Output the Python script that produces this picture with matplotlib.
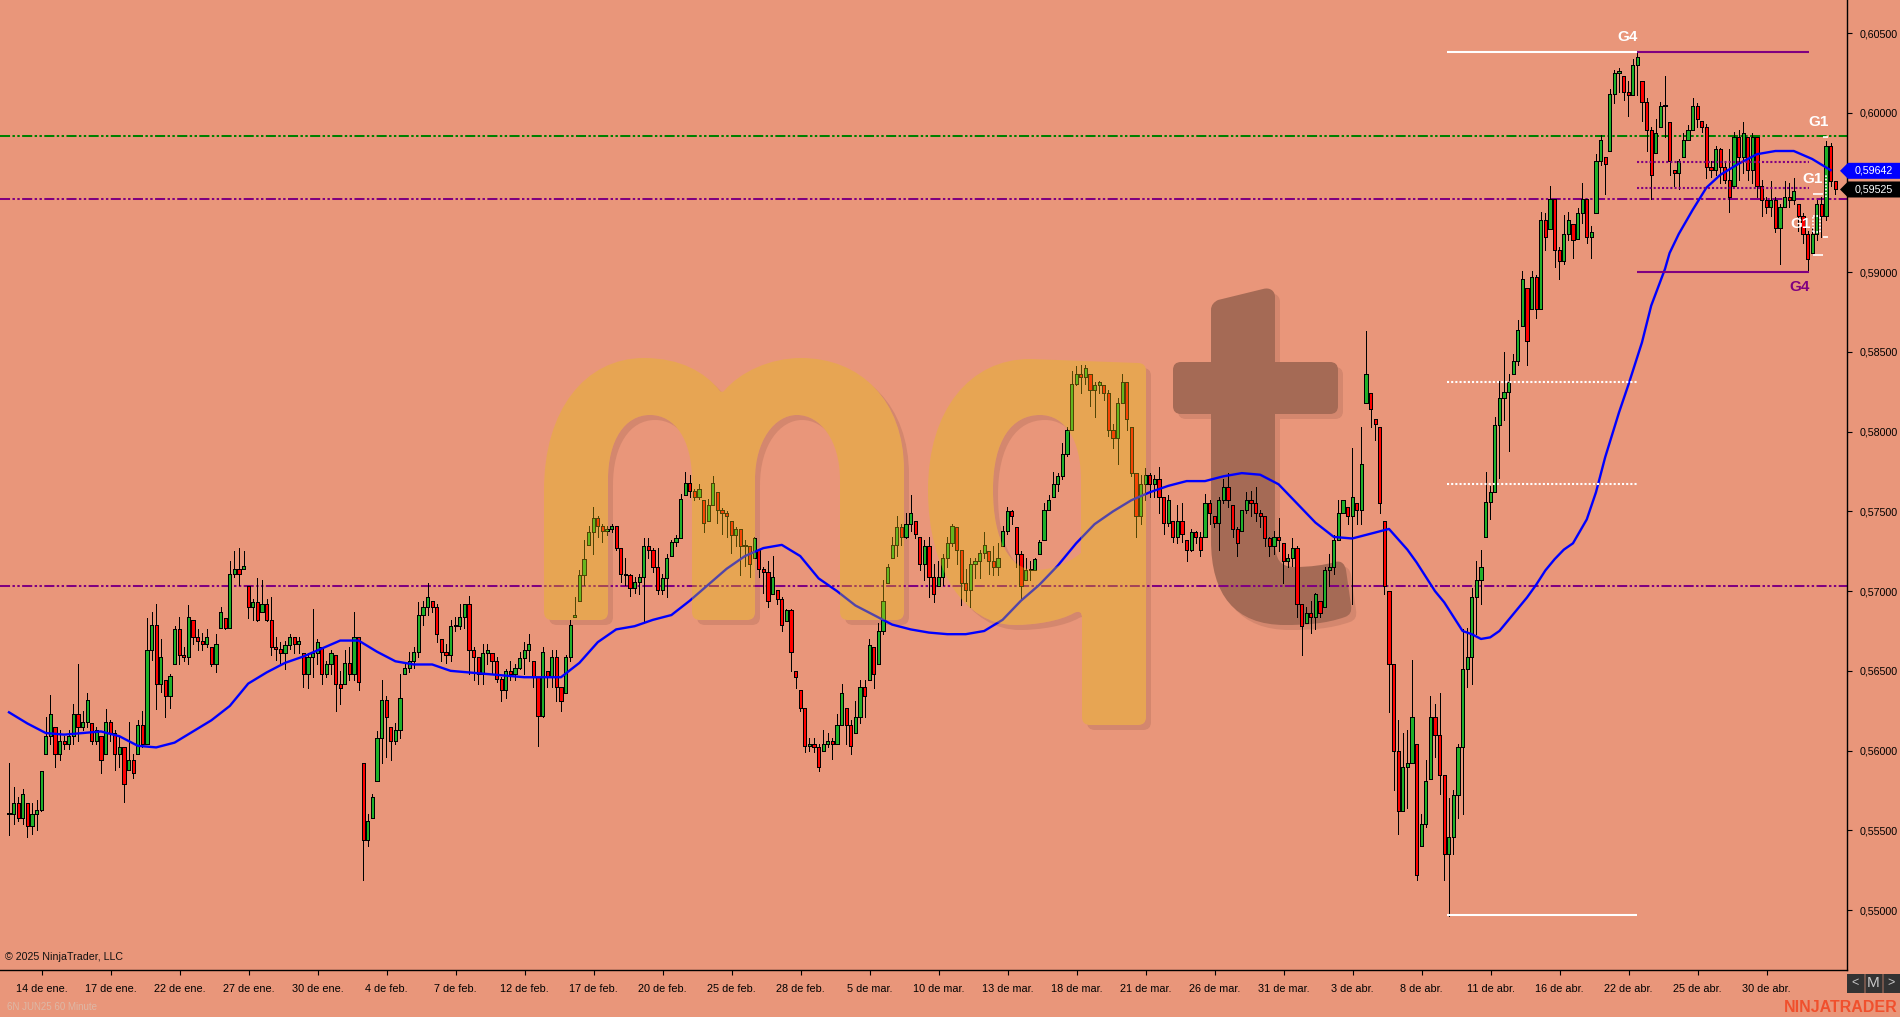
import numpy as np
import matplotlib
matplotlib.use("Agg")
from matplotlib import pyplot as plt
from matplotlib.path import Path
from matplotlib.patches import PathPatch, Polygon, Rectangle
from matplotlib.transforms import Affine2D

# prices are kept as price x 10000, one candle per 4.6 px of the original
closes = [
5560,5567,5558,5573,5553,5560,5563,5587,5609,5623,5598,5606,5604,5609,5623,5615,5618,5632,5606,5613,
5594,5618,5611,5598,5602,5579,5594,5586,5616,5604,5663,5679,5642,5659,5634,5647,5676,5660,5659,5684,
5671,5669,5667,5671,5654,5667,5687,5677,5711,5714,5711,5716,5690,5693,5682,5692,5682,5665,5664,5661,
5666,5671,5667,5669,5648,5659,5661,5668,5648,5654,5661,5642,5639,5655,5648,5671,5643,5544,5556,5571,
5608,5632,5621,5606,5613,5633,5652,5656,5662,5685,5690,5696,5690,5673,5662,5660,5678,5678,5684,5692,
5663,5659,5648,5661,5663,5656,5645,5638,5650,5648,5652,5658,5663,5667,5646,5622,5662,5646,5659,5640,
5631,5659,5679,5685,5710,5720,5737,5746,5741,5738,5739,5741,5727,5711,5710,5702,5706,5709,5728,5726,
5715,5701,5708,5721,5731,5733,5758,5768,5763,5759,5764,5743,5754,5768,5751,5749,5747,5735,5739,5728,
5729,5717,5733,5714,5712,5694,5709,5695,5679,5688,5662,5646,5627,5603,5604,5602,5590,5604,5606,5604,
5616,5636,5616,5603,5621,5640,5634,5666,5648,5675,5694,5715,5729,5740,5734,5742,5749,5736,5717,5728,
5709,5698,5709,5721,5730,5741,5726,5705,5701,5717,5719,5724,5729,5719,5715,5721,5738,5750,5747,5723,
5703,5713,5713,5720,5731,5751,5757,5767,5772,5786,5801,5830,5836,5834,5840,5826,5829,5831,5824,5801,
5796,5818,5831,5808,5774,5747,5767,5773,5767,5770,5759,5743,5757,5734,5744,5736,5726,5737,5734,5726,
5755,5749,5743,5757,5765,5757,5739,5730,5751,5757,5755,5749,5747,5733,5728,5734,5732,5719,5721,5727,
5692,5678,5686,5684,5698,5686,5713,5715,5732,5749,5757,5747,5759,5751,5780,5836,5814,5805,5755,5703,
5654,5600,5562,5590,5592,5621,5522,5554,5581,5621,5610,5585,5535,5546,5572,5602,5651,5659,5696,5707,
5715,5756,5762,5804,5821,5825,5831,5844,5864,5896,5857,5897,5877,5933,5922,5946,5914,5907,5924,5933,
5920,5937,5946,5922,5925,5970,5983,5968,6012,6025,6026,6013,6011,6030,6035,6007,5989,5961,5987,6004,
6005,5970,5962,5970,5983,5989,6004,5996,5991,5966,5964,5977,5966,5958,5947,5985,5972,5987,5964,5985,
5954,5945,5941,5945,5928,5941,5947,5945,5951,5935,5924,5908,5924,5943,5935,5979,5957,5952]

highs = [
5592,5577,5571,5576,5567,5567,5569,5587,5621,5635,5615,5613,5609,5613,5629,5654,5625,5636,5617,5615,
5609,5626,5619,5613,5609,5602,5618,5598,5619,5625,5683,5687,5692,5670,5644,5648,5678,5684,5665,5691,
5682,5676,5674,5676,5665,5673,5690,5683,5719,5725,5727,5725,5703,5695,5708,5707,5695,5696,5671,5668,
5669,5673,5671,5671,5661,5661,5689,5670,5665,5656,5663,5660,5650,5663,5665,5687,5671,5592,5560,5573,
5612,5644,5634,5615,5617,5648,5654,5662,5665,5693,5694,5705,5694,5692,5670,5667,5682,5684,5692,5692,
5697,5665,5659,5667,5667,5661,5659,5646,5651,5656,5654,5662,5668,5673,5656,5646,5665,5650,5663,5663,
5640,5660,5682,5696,5713,5732,5741,5753,5747,5742,5741,5742,5741,5727,5721,5711,5709,5711,5733,5733,
5727,5727,5711,5723,5732,5735,5761,5775,5773,5764,5767,5757,5758,5772,5762,5752,5750,5744,5740,5739,
5732,5728,5734,5726,5715,5719,5722,5701,5696,5689,5689,5650,5638,5627,5608,5608,5604,5613,5611,5608,
5623,5642,5627,5619,5631,5644,5644,5670,5665,5680,5707,5717,5734,5747,5742,5749,5760,5744,5734,5732,
5734,5717,5719,5723,5734,5742,5740,5726,5714,5721,5721,5726,5737,5725,5728,5730,5741,5753,5751,5740,
5725,5721,5719,5721,5732,5755,5760,5775,5774,5793,5803,5838,5841,5842,5842,5836,5831,5832,5829,5826,
5805,5821,5836,5831,5803,5774,5773,5777,5774,5773,5778,5759,5760,5744,5754,5755,5732,5739,5738,5737,
5761,5757,5747,5759,5770,5774,5754,5740,5751,5762,5763,5765,5751,5747,5734,5738,5746,5730,5723,5733,
5728,5692,5690,5694,5699,5694,5715,5723,5735,5757,5757,5753,5790,5755,5803,5863,5824,5808,5803,5744,
5700,5654,5619,5611,5613,5657,5604,5560,5594,5634,5629,5636,5585,5570,5575,5604,5676,5677,5702,5719,
5726,5775,5766,5809,5832,5850,5836,5849,5870,5901,5890,5901,5898,5938,5937,5954,5946,5916,5936,5938,
5930,5940,5956,5946,5929,5974,5986,5972,6015,6027,6028,6023,6020,6034,6038,6020,6009,5991,5996,6007,
6023,5994,5964,5971,5987,5992,6009,6006,5995,5993,5970,5979,5978,5970,5977,5988,5989,5994,5985,5987,
5985,5958,5947,5957,5947,5943,5957,5956,5959,5943,5937,5926,5928,5945,5947,5982,5981,5957]

lows = [
5547,5554,5556,5554,5546,5548,5550,5562,5598,5604,5590,5594,5601,5601,5604,5606,5613,5615,5604,5604,
5586,5598,5606,5588,5590,5568,5588,5583,5598,5602,5604,5657,5626,5637,5621,5627,5654,5654,5656,5654,
5667,5663,5663,5665,5653,5649,5677,5676,5677,5709,5704,5714,5683,5682,5681,5687,5681,5660,5657,5654,
5651,5664,5661,5661,5640,5639,5646,5654,5642,5646,5648,5625,5629,5642,5644,5644,5638,5519,5540,5558,
5581,5592,5596,5594,5604,5608,5648,5649,5652,5659,5679,5685,5687,5668,5656,5655,5656,5675,5676,5677,
5648,5644,5642,5642,5654,5648,5643,5631,5633,5644,5644,5651,5648,5656,5640,5603,5621,5640,5640,5631,
5625,5636,5656,5684,5694,5704,5729,5723,5734,5731,5735,5737,5726,5706,5704,5697,5699,5698,5681,5721,
5712,5698,5698,5696,5722,5728,5733,5760,5759,5757,5758,5737,5744,5754,5743,5736,5734,5724,5728,5710,
5716,5709,5721,5709,5699,5690,5698,5692,5675,5681,5650,5639,5625,5599,5600,5599,5587,5600,5602,5595,
5604,5616,5604,5598,5611,5617,5621,5644,5639,5654,5673,5705,5721,5722,5729,5733,5738,5733,5713,5707,
5696,5693,5703,5704,5715,5728,5717,5691,5694,5690,5708,5708,5721,5711,5710,5710,5728,5736,5742,5715,
5695,5707,5707,5713,5723,5732,5751,5759,5763,5770,5785,5801,5829,5824,5830,5816,5809,5824,5820,5797,
5790,5780,5818,5801,5772,5734,5742,5757,5759,5759,5749,5736,5741,5731,5730,5731,5719,5725,5730,5722,
5734,5742,5740,5726,5755,5753,5734,5722,5738,5749,5747,5744,5740,5728,5722,5723,5725,5705,5715,5716,
5684,5660,5680,5674,5676,5684,5690,5703,5711,5732,5749,5742,5692,5742,5742,5818,5803,5795,5749,5698,
5624,5575,5548,5562,5564,5592,5519,5540,5552,5582,5596,5573,5519,5496,5535,5558,5560,5640,5642,5673,
5692,5734,5745,5762,5771,5807,5788,5836,5842,5866,5842,5877,5871,5877,5914,5927,5903,5896,5905,5920,
5909,5921,5931,5918,5909,5937,5967,5949,5976,6006,6013,6008,5998,6011,6011,5995,5976,5946,5975,5991,
5985,5961,5954,5952,5972,5983,5989,5991,5988,5959,5960,5961,5956,5956,5938,5954,5958,5962,5958,5956,
5947,5935,5937,5935,5925,5905,5941,5941,5943,5926,5918,5901,5912,5920,5922,5933,5954,5949]

# moving average at these candle numbers
ma_index = list(range(0, 304, 4)) + [304,306,308,310,312,314,316,318,320,322,324,326,328,330,332,334,336,338,340,
            343,345,347,350,352,355,357,360,361,363,366,369,372,376,380,384,388,392,396]
ma_values = [
5624,5617,5611,5610,5611,5612,5609,5603,5602,5605,5612,5619,5628,5642,5649,5655,5659,5664,5669,5669,5662,5656,
5654,5654,5650,5649,5648,5647,5646,5646,5646,5655,5668,5676,5678,5682,5685,5694,5704,5714,5722,5727,5729,5722,
5708,5700,5691,5685,5679,5676,5674,5673,5673,5675,5682,5694,5704,5716,5730,5742,5750,5757,5762,5766,
5769,5769,5772,5774,5773,5767,5755,5743,5734,5733,5736,5739,
5726,5718,5709,5700,5693,5684,5675,5673,5670,5671,5675,5682,5689,5696,5704,5713,5720,5726,5730,
5745,5762,5784,5812,5829,5856,5879,5902,5912,5924,5939,5953,5961,5968,5974,5976,5976,5971,5964]

date_labels = ["14 de ene.","17 de ene.","22 de ene.","27 de ene.","30 de ene.","4 de feb.","7 de feb.",
               "12 de feb.","17 de feb.","20 de feb.","25 de feb.","28 de feb.","5 de mar.","10 de mar.",
               "13 de mar.","18 de mar.","21 de mar.","26 de mar.","31 de mar.","3 de abr.","8 de abr.",
               "11 de abr.","16 de abr.","22 de abr.","25 de abr.","30 de abr."]
price_ticks = [0.605,0.600,0.590,0.585,0.580,0.575,0.570,0.565,0.560,0.555,0.550]

full_levels = [(0.59854,"#008000"),(0.59460,"#800080"),(0.57030,"#800080")]
last_price = 0.59525
ma_last = 0.59642

BG = "#E9967A"
W, H = 1900, 1017

plt.rcParams["font.family"] = ["Liberation Sans", "DejaVu Sans"]

fig = plt.figure(figsize=(W/100, H/100), dpi=100, facecolor=BG)
ax = fig.add_axes([0, (H-970)/H, 1846.5/W, 970/H], facecolor=BG)
ax.set_xlim(-1.957, 399.46)
ax.set_ylim(0.54624, 0.60707)

# logo is drawn in picture pixels, y going down
px = Affine2D().scale(1, -1).translate(0, H)

def make_path(cmds):
    verts, codes = [], []
    for c in cmds:
        if c[0] == "M":
            verts.append(c[1:3]); codes.append(Path.MOVETO)
        elif c[0] == "L":
            verts.append(c[1:3]); codes.append(Path.LINETO)
        elif c[0] == "Q":
            verts += [c[1:3], c[3:5]]; codes += [Path.CURVE3]*2
        elif c[0] == "C":
            verts += [c[1:3], c[3:5], c[5:7]]; codes += [Path.CURVE4]*3
        elif c[0] == "Z":
            verts.append(verts[-1]); codes.append(Path.CLOSEPOLY)
    return Path(verts, codes)

logo_m = make_path([("M",544,612),("Q",544,620,552,620),("L",600,620),("Q",608,620,608,612),
    ("L",608,480),("C",608,440,625,415,650,415),("C",675,415,692,440,692,480),("L",692,612),
    ("Q",692,620,700,620),("L",747,620),("Q",755,620,755,612),("L",755,480),("C",755,440,775,415,797,415),
    ("C",820,415,840,440,840,480),("L",840,612),("Q",840,620,848,620),("L",896,620),("Q",904,620,904,612),
    ("L",904,470),("C",904,400,860,358,801,358),("C",770,358,740,372,724,391),("Q",722,393,720,391),
    ("C",705,372,680,358,644,358),("C",585,358,544,410,544,490),("Z",)])
logo_q = make_path([("M",1146,371),("L",1146,717),("Q",1146,725,1138,725),("L",1090,725),("Q",1082,725,1082,717),
    ("L",1082,618),("Q",1082,609,1074,613),("C",1060,621,1035,625,1015,625),("C",965,625,928,570,928,490),
    ("C",928,410,970,359,1030,359),("L",1138,363),("Q",1146,363,1146,371),("Z",),
    ("M",993,490),("C",993,540,1010,570,1035,570),("C",1050,570,1066,565,1081,553),("L",1081,480),
    ("C",1081,440,1065,415,1040,415),("C",1012,415,993,440,993,490),("Z",)])
logo_t = make_path([("M",1211,310),("C",1211,305,1214,302,1218,300),("L",1263,289),("C",1270,287,1275,291,1275,297),
    ("L",1275,362),("L",1330,362),("Q",1338,362,1338,370),("L",1338,406),("Q",1338,414,1330,414),("L",1275,414),
    ("L",1275,540),("C",1275,560,1280,567,1295,567),("C",1310,567,1325,565,1335,562),("C",1342,560,1345,565,1346,570),
    ("L",1351,605),("C",1352,612,1350,615,1345,617),("C",1325,624,1305,625,1285,625),("C",1235,625,1211,595,1211,540),
    ("L",1211,414),("L",1181,414),("Q",1173,414,1173,406),("L",1173,370),("Q",1173,362,1181,362),("L",1211,362),("Z",)])

shadow = Affine2D().translate(5, 5) + px
for p in (logo_m, logo_q, logo_t):
    ax.add_patch(PathPatch(p, transform=shadow, fc="#D4876E", ec="none", zorder=1, clip_on=False))
# wipe the shadow under m and q, their tint goes on top of the candles later
for p in (logo_m, logo_q):
    ax.add_patch(PathPatch(p, transform=px, fc=BG, ec="none", zorder=1.05))
ax.add_patch(PathPatch(logo_t, transform=px, fc="#A56A55", ec="none", zorder=1.1))

# horizontal levels across the chart
for lev, col in full_levels:
    ax.axhline(lev, color=col, lw=1.45, dashes=(5, 1.2, 1.2, 1.2, 1.2, 1.2), zorder=2)

# candles
x = np.arange(len(closes))
c = np.array(closes)/10000
h = np.array(highs)/10000
l = np.array(lows)/10000
o = np.clip(np.r_[c[0], c[:-1]], l, h)
up = c >= o
ax.vlines(x, l, h, color="black", lw=0.72, zorder=3, antialiased=False)
ax.bar(x, np.maximum(np.abs(c-o), 0.00006), bottom=np.minimum(o, c), width=0.72,
       color=np.where(up, "#1FB02A", "#FF0000"), edgecolor="black", linewidth=0.72, zorder=3.1, antialiased=False)

# moving average
ax.plot(ma_index, np.array(ma_values)/10000, color="#0000FF", lw=1.7, zorder=4)

# logo body sits over the candles
for p in (logo_m, logo_q):
    ax.add_patch(PathPatch(p, transform=px, fc="#E6C110", alpha=0.36, ec="none", zorder=5))

# swing lines
ax.hlines(0.6038, 312.6, 353.9, color="white", lw=1.5, zorder=6)
ax.hlines(0.6038, 353.9, 391.3, color="#800080", lw=1.5, zorder=6)
ax.hlines(0.5497, 312.6, 353.9, color="white", lw=1.5, zorder=6)
ax.hlines(0.5900, 353.9, 391.3, color="#800080", lw=1.5, zorder=6)
ax.hlines([0.5831, 0.5767], 312.6, 353.9, color="white", lw=1.5, linestyles=[(0, (1, 1))], zorder=6)
ax.hlines([0.5969, 0.5953], 353.9, 391.3, color="#800080", lw=1.5, linestyles=[(0, (1, 1))], zorder=6)

# G1 stubs
ax.hlines([0.5949, 0.5911], 392.2, 394.3, color="white", lw=1.2, zorder=6)
ax.hlines([0.5985, 0.5922], 394.3, 395.4, color="white", lw=1.2, zorder=6)
ax.hlines([0.5935, 0.5925], 392.2, 393.8, color="white", lw=1.2, linestyles=[(0, (1, 1))], zorder=6)
ax.vlines([392.2, 393.8], 0.5925, 0.5935, color="white", lw=1.2, linestyles=[(0, (1, 1))], zorder=6)
ax.vlines(395.1, 0.5947, 0.5961, color="white", lw=1.2, linestyles=[(0, (1, 1))], zorder=6)

# chart labels
lab = dict(transform=px, ha="center", va="center", fontsize=11, fontweight="bold", zorder=7, clip_on=False)
ax.text(1628, 37, "G4", color="white", **lab)
ax.text(1800, 287, "G4", color="#800080", **lab)
ax.text(1819, 122, "G1", color="white", **lab)
ax.text(1813, 179, "G1", color="white", **lab)
ax.text(1801, 224, "G1", color="white", **lab)

# axes
for s in ("top", "left"):
    ax.spines[s].set_visible(False)
for s in ("right", "bottom"):
    ax.spines[s].set_linewidth(1.0)
    ax.spines[s].set_color("black")
ax.yaxis.tick_right()
ax.set_yticks(price_ticks)
ax.set_yticklabels([f"{p:.5f}".replace(".", ",") for p in price_ticks])
ax.set_xticks(7.1 + 15*np.arange(len(date_labels)))
ax.set_xticklabels(date_labels)
ax.tick_params(axis="y", length=3.6, width=0.8, pad=5.5, labelsize=7.7, colors="black")
ax.tick_params(axis="x", length=3.6, width=0.8, pad=6.5, labelsize=7.8, colors="black")

# price tags on the axis
def y_px(v):
    return H - ax.transData.transform((0, v))[1]

for v, col in ((ma_last, "#0000FF"), (last_price, "#000000")):
    y = y_px(v) + 1
    ax.add_patch(Polygon([(1840, y), (1848, y-8), (1900, y-8), (1900, y+8), (1848, y+8)], closed=True,
                         transform=px, fc=col, ec="none", zorder=8, clip_on=False))
    ax.text(1874, y, f"{v:.5f}".replace(".", ","), transform=px, ha="center", va="center", color="white",
            fontsize=7.7, zorder=9, clip_on=False)

# corner texts and buttons
ax.text(5, 957, "© 2025 NinjaTrader, LLC", transform=px, ha="left", va="center", fontsize=7.7, color="#111111", zorder=7)
ax.text(7, 1007, "6N JUN25 60 Minute", transform=px, ha="left", va="center", fontsize=7, color="#DDB8A6", clip_on=False)
ax.text(1898, 1007, "NINJATRADER", transform=px, ha="right", va="center", fontsize=11.5, fontweight="bold",
        color="#F0502D", clip_on=False)
ax.add_patch(Rectangle((1847, 974), 53, 19, transform=px, fc="#333333", ec="none", clip_on=False, zorder=7))
for bx, t, fs in ((1855, "<", 9), (1873, "M", 11), (1891, ">", 9)):
    ax.text(bx, 983, t, transform=px, ha="center", va="center", fontsize=fs, color="#C8C8C8", clip_on=False, zorder=8)
for bx in (1864, 1882):
    ax.add_patch(Rectangle((bx, 974), 1.5, 19, transform=px, fc=BG, alpha=0.35, ec="none", clip_on=False, zorder=8))

fig.savefig("out.png", dpi=100, facecolor=BG)
